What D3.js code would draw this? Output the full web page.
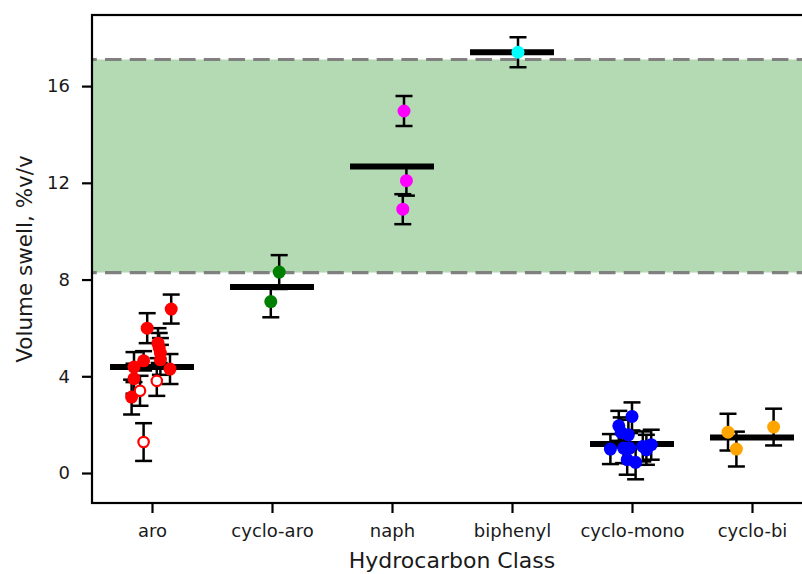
<!DOCTYPE html>
<html>
<head>
<meta charset="utf-8">
<script src="https://cdn.jsdelivr.net/npm/d3@7"></script>
<style>
  body { margin: 0; background: #fff; }
  svg { display: block; font-family: "DejaVu Sans", sans-serif; }
</style>
</head>
<body>
<svg id="chart"></svg>
<script>
// categories on x
let categories = ["aro", "cyclo-aro", "naph", "biphenyl", "cyclo-mono", "cyclo-bi"]
// class means (black bars)
let classMean = [4.38, 7.69, 12.67, 17.40, 1.20, 1.47]

// individual measurements
let ptClass = [
  0,0,0,0,0,0,0,0,0,0,0, 0,0,0,
  1,1,
  2,2,2,
  3,
  4,4,4,4,4,4,4,4,4,4,4,4,
  5,5,5
]
let ptValue = [
  6.78,5.99,5.37,5.17,4.96,4.68,4.64,4.38,4.30,3.90,3.14, 3.40,3.81,1.28,
  8.31,7.09,
  14.97,12.09,10.91,
  17.40,
  2.34,1.95,1.68,1.58,0.99,1.03,1.03,1.10,1.17,0.55,0.44,0.96,
  1.69,0.99,1.90
]
let ptErr = [
  0.60,0.62,0.62,0.62,0.62,0.62,0.40,0.62,0.62,0.62,0.72, 0.62,0.62,0.78,
  0.70,0.65,
  0.62,0.62,0.62,
  0.62,
  0.58,0.62,0.62,0.62,0.62,0.62,0.62,0.62,0.62,0.62,0.70,0.62,
  0.76,0.72,0.76
]
// horizontal jitter, in category units
let ptJitter = [
  0.16,-0.04,0.05,0.06,0.07,0.07,-0.07,-0.15,0.15,-0.15,-0.17, -0.10,0.04,-0.07,
  0.06,-0.01,
  0.10,0.12,0.09,
  0.05,
  0.00,-0.11,-0.09,-0.03,-0.18,-0.07,-0.02,0.09,0.16,-0.04,0.03,0.12,
  -0.20,-0.13,0.18
]
// hollow markers
let ptOpen = [
  0,0,0,0,0,0,0,0,0,0,0, 1,1,1,
  0,0, 0,0,0, 0,
  0,0,0,0,0,0,0,0,0,0,0,0,
  0,0,0
]
let bandRange = [8.29, 17.10]
let yTicks = [0, 4, 8, 12, 16]

let classColors = ["#ff0000", "#008000", "#ff00ff", "#00ffff", "#0000ff", "#ffa500"]

let width = 802
let height = 574
let plotL = 92, plotT = 15, plotR = 812, plotB = 503

let svg = d3.select('#chart').attr('width', width).attr('height', height)

let xScale = d3.scalePoint().domain(d3.range(categories.length)).range([plotL, plotR]).padding(0.5)
let step = xScale.step()
let xPos = (c, j) => xScale(c) + j * step
let yScale = d3.scaleLinear().domain([-1.24, 18.94]).range([plotB, plotT])

// shaded band
svg.append('rect')
  .attr('x', plotL).attr('width', plotR - plotL)
  .attr('y', yScale(bandRange[1])).attr('height', yScale(bandRange[0]) - yScale(bandRange[1]))
  .attr('fill', '#b3dab3')

svg.selectAll('.band-edge').data(bandRange).enter().append('line')
  .attr('x1', plotL).attr('x2', plotR)
  .attr('y1', d => yScale(d)).attr('y2', d => yScale(d))
  .attr('stroke', '#808080').attr('stroke-width', 3.2)
  .attr('stroke-dasharray', '16.5,8.2').attr('stroke-dashoffset', 11.7)

let pts = ptValue.map((v, i) => ({ c: ptClass[i], v: v, e: ptErr[i], j: ptJitter[i], open: ptOpen[i] }))

// error bars
let eb = svg.append('g').attr('stroke', '#000').attr('stroke-width', 2.5)
pts.forEach(p => {
  let x = xPos(p.c, p.j)
  eb.append('line').attr('x1', x).attr('x2', x).attr('y1', yScale(p.v - p.e)).attr('y2', yScale(p.v + p.e))
  eb.append('line').attr('x1', x - 8.5).attr('x2', x + 8.5).attr('y1', yScale(p.v - p.e)).attr('y2', yScale(p.v - p.e))
  eb.append('line').attr('x1', x - 8.5).attr('x2', x + 8.5).attr('y1', yScale(p.v + p.e)).attr('y2', yScale(p.v + p.e))
})

// mean bars
svg.selectAll('.mean').data(classMean).enter().append('line')
  .attr('x1', (d, i) => xPos(i, -0.35)).attr('x2', (d, i) => xPos(i, 0.35))
  .attr('y1', d => yScale(d)).attr('y2', d => yScale(d))
  .attr('stroke', '#000').attr('stroke-width', 6)

// markers
svg.selectAll('.pt').data(pts).enter().append('circle')
  .attr('cx', d => xPos(d.c, d.j)).attr('cy', d => yScale(d.v))
  .attr('r', d => d.open ? 5.2 : 6.5)
  .attr('fill', d => d.open ? '#fff' : classColors[d.c])
  .attr('stroke', d => d.open ? classColors[d.c] : 'none')
  .attr('stroke-width', 2.2)

// axes
let xAxis = d3.axisBottom(xScale).tickFormat(i => categories[i]).tickSize(10).tickPadding(11)
let gx = svg.append('g').attr('transform', 'translate(0,' + plotB + ')').call(xAxis)
let yAxis = d3.axisLeft(yScale).tickValues(yTicks).tickSize(10).tickPadding(12)
let gy = svg.append('g').attr('transform', 'translate(' + plotL + ',0)').call(yAxis)
;[gx, gy].forEach(g => {
  g.select('.domain').remove()
  g.selectAll('.tick line').attr('stroke', '#000').attr('stroke-width', 2.2)
  g.selectAll('.tick text').attr('fill', '#1a1a1a').style('font-size', '18px').style('font-family', '"DejaVu Sans", sans-serif')
})

// frame
svg.append('rect').attr('x', plotL).attr('y', plotT).attr('width', plotR - plotL).attr('height', plotB - plotT)
  .attr('fill', 'none').attr('stroke', '#000').attr('stroke-width', 2.2)

svg.append('text').attr('x', 452).attr('y', 568)
  .attr('text-anchor', 'middle').attr('fill', '#1a1a1a').style('font-size', '22px')
  .text('Hydrocarbon Class')

svg.append('text').attr('transform', 'translate(32,' + (plotT + plotB) / 2 + ') rotate(-90)')
  .attr('text-anchor', 'middle').attr('fill', '#1a1a1a').style('font-size', '21.5px')
  .text('Volume swell, %v/v')
</script>
</body>
</html>
